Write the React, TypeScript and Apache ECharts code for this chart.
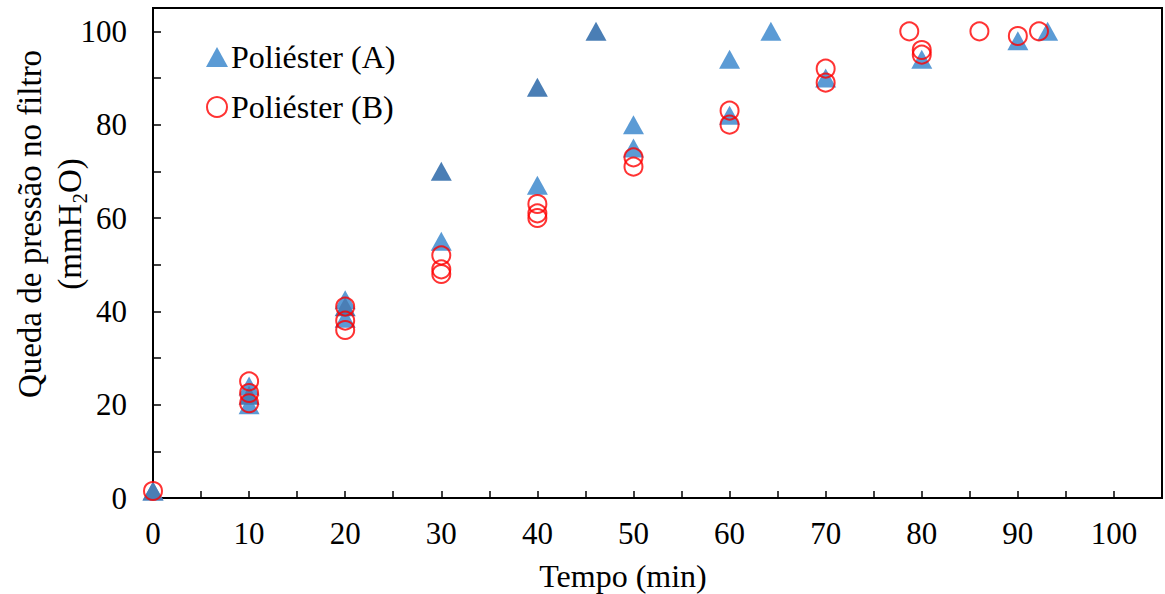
import React, { useEffect, useRef } from "react";
import * as echarts from "echarts";

// Poliéster (A) — light triangles
const seriesA: [number, number][] = [
  [0, 1.5], [10, 24], [10, 20], [20, 42.5], [20, 38.5], [30, 55], [40, 67],
  [50, 80], [50, 75], [60, 94], [60, 82], [64.3, 100], [70, 90], [80, 94],
  [90, 98], [93.1, 100],
];
// Poliéster (A) — darker replicate triangles
const seriesA2: [number, number][] = [
  [0, 1.5], [10, 22], [20, 41], [30, 70], [40, 88], [46.1, 100],
];
// Poliéster (B) — red open circles
const seriesB: [number, number][] = [
  [0, 1.5], [10, 25], [10, 22.5], [10, 20.3], [20, 41], [20, 38], [20, 36],
  [30, 52], [30, 49], [30, 48], [40, 63], [40, 61], [40, 60], [50, 73], [50, 71],
  [60, 83], [60, 80], [70, 92], [70, 89], [78.7, 100], [80, 96], [80, 95],
  [86, 100], [90, 99], [92.2, 100],
];
const seriesNames = ["Poliéster (A)", "Poliéster (B)"];
const xTitle = "Tempo (min)";
const yTitle = "Queda de pressão no filtro\n(mmH{sub|2}O)";

const FONT = "Liberation Serif";

export default function App() {
  const ref = useRef<HTMLDivElement>(null);
  useEffect(() => {
    if (!ref.current) return;
    const chart = echarts.init(ref.current, undefined, { renderer: "svg" });
    chart.setOption({
      animation: false,
      textStyle: { fontFamily: FONT },
      grid: {
        left: 153, top: 8, right: 0, bottom: 96,
        show: true, borderColor: "#000", borderWidth: 2,
      },
      xAxis: {
        type: "value", min: 0, max: 105, interval: 5,
        axisLine: { lineStyle: { color: "#000", width: 2 } },
        axisTick: { inside: true, length: 7, lineStyle: { color: "#000", width: 1.5 } },
        splitLine: { show: false },
        axisLabel: {
          margin: 20, color: "#000", fontSize: 31, fontFamily: FONT,
          formatter: (v: number) => (v % 10 === 0 && v <= 100 ? String(v) : ""),
        },
      },
      yAxis: {
        type: "value", min: 0, max: 105, interval: 10,
        axisLine: { lineStyle: { color: "#000", width: 2 } },
        axisTick: { inside: true, length: 8, lineStyle: { color: "#000", width: 1.5 } },
        splitLine: { show: false },
        axisLabel: {
          margin: 26, color: "#000", fontSize: 31, fontFamily: FONT,
          formatter: (v: number) => (v % 20 === 0 && v <= 100 ? String(v) : ""),
        },
      },
      legend: {
        data: seriesNames,
        orient: "vertical",
        left: 201, top: 36,
        itemWidth: 22, itemHeight: 20, itemGap: 18,
        textStyle: { fontSize: 32, color: "#000", fontFamily: FONT, padding: [0, 0, 0, -2] },
      },
      graphic: [
        {
          type: "text", x: 50, y: 224, rotation: Math.PI / 2,
          style: {
            text: yTitle, fill: "#000", fontSize: 33, fontFamily: FONT,
            align: "center", verticalAlign: "middle", lineHeight: 40,
            rich: {
              sub: { fontSize: 21, fontFamily: FONT, verticalAlign: "bottom", lineHeight: 22, fill: "#000" },
            },
          },
        },
        {
          type: "text", x: 623, y: 576,
          style: {
            text: xTitle, fill: "#000", fontSize: 32, fontFamily: FONT,
            align: "center", verticalAlign: "middle",
          },
        },
      ],
      series: [
        {
          name: seriesNames[0], type: "scatter", symbol: "triangle",
          symbolSize: [21, 19], data: seriesA,
          itemStyle: { color: "#5B9BD5", opacity: 1 },
          z: 2,
        },
        {
          name: "Poliéster (A) rep", type: "scatter", symbol: "triangle",
          symbolSize: [21, 19], data: seriesA2,
          itemStyle: { color: "#4A7EB5", opacity: 1 },
          z: 3,
        },
        {
          name: seriesNames[1], type: "scatter", symbol: "circle",
          symbolSize: 18, data: seriesB,
          itemStyle: { color: "rgba(0,0,0,0)", borderColor: "#FF0000", borderWidth: 2 },
          z: 4,
        },
      ],
    });
    return () => chart.dispose();
  }, []);
  return (
    <div
      ref={ref}
      style={{ position: "absolute", left: 0, top: 0, width: 1165, height: 594 }}
    />
  );
}
